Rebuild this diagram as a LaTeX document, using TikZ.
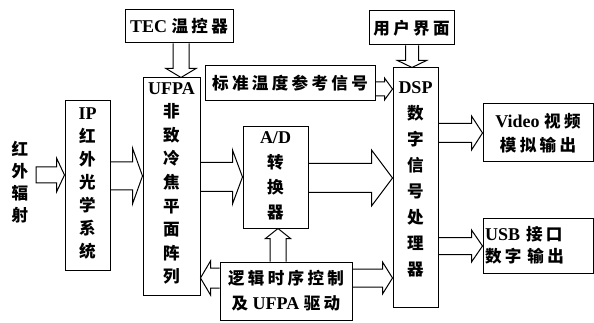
\documentclass[tikz,border=0pt]{standalone}
\usepackage{fontspec}
\setmainfont{Liberation Serif}
\newfontfamily\cjk[Scale=0.92,LetterSpace=20]{Noto Sans CJK SC}
\usetikzlibrary{calc}
\newcommand\zh[1]{{\cjk #1}}
\tikzset{
  box/.style={draw, line width=1pt, inner sep=0pt},
  txt/.style={inner sep=0pt, align=center, font=\bfseries\fontsize{18}{24}\selectfont},
  barr/.style={draw, line width=1pt, line join=miter}
}
% from, to, shaft half width, head half width, head length, end
\newcommand\blockarrow[6]{%
  \coordinate (hb) at ($(#2)!#5pt!(#1)$);
  \draw[barr] ($(#1)!#3pt!90:(#2)$) -- ($(hb)!#3pt!90:(#2)$) -- ($(hb)!#4pt!90:(#2)$) -- (#2)
    -- ($(hb)!#4pt!-90:(#2)$) -- ($(hb)!#3pt!-90:(#2)$) -- ($(#1)!#3pt!-90:(#2)$) #6;
}
\begin{document}
\begin{tikzpicture}[x=1pt,y=-1pt]
\useasboundingbox (0,0) rectangle (594,323);
% boxes
\node[box, txt, minimum width=108pt, minimum height=33pt] (tec) at (179,26.5) {TEC \zh{温控器}};
\node[box, txt, minimum width=85pt, minimum height=34pt] (user) at (411.5,28) {\zh{用户界面}};
\node[box, txt, minimum width=170pt, minimum height=35pt] (std) at (290,83.5) {\zh{标准温度参考信号}};
\node[box, minimum width=45pt, minimum height=169pt] (ip) at (87.5,185.5) {};
\node[box, minimum width=57pt, minimum height=217pt] (ufpa) at (171.5,186.5) {};
\node[box, minimum width=65pt, minimum height=101pt] (ad) at (275.5,177.5) {};
\node[box, minimum width=45pt, minimum height=239pt] (dsp) at (415.5,187.5) {};
\node[box, txt, minimum width=110pt, minimum height=58pt] (video) at (538,133) {Video \zh{视频}\\\zh{模拟输出}};
\node[box, txt, align=left, text width=106pt, inner xsep=2pt, minimum height=55pt, font=\bfseries\fontsize{18}{22}\selectfont] (usb) at (538,245.5) {USB \zh{接口}\\\zh{数字} \zh{输出}};
\node[box, txt, minimum width=132pt, minimum height=58pt, font=\bfseries\fontsize{18}{25}\selectfont] (logic) at (286,291) {\zh{逻辑时序控制}\\\zh{及} UFPA \zh{驱动}};
% vertical texts
\node[txt, font=\bfseries\fontsize{18}{22}\selectfont] (ir) at (20,182) {\zh{红}\\\zh{外}\\\zh{辐}\\\zh{射}};
\node[txt, font=\bfseries\fontsize{18}{23}\selectfont] (iptxt) at (87.5,183.5) {IP\\\zh{红}\\\zh{外}\\\zh{光}\\\zh{学}\\\zh{系}\\\zh{统}};
\node[txt, font=\bfseries\fontsize{18}{23.6}\selectfont] (ufpatxt) at (171.5,183.5) {UFPA\\\zh{非}\\\zh{致}\\\zh{冷}\\\zh{焦}\\\zh{平}\\\zh{面}\\\zh{阵}\\\zh{列}};
\node[txt, font=\bfseries\fontsize{18}{25}\selectfont] (adtxt) at (275.5,175.5) {A/D\\\zh{转}\\\zh{换}\\\zh{器}};
\node[txt, font=\bfseries\fontsize{18}{26}\selectfont] (dsptxt) at (415.5,179) {DSP\\\zh{数}\\\zh{字}\\\zh{信}\\\zh{号}\\\zh{处}\\\zh{理}\\\zh{器}};
% arrow end points
\coordinate (a1s) at (36,175);
\coordinate (a1e) at (ip.west |- 0,175);
\coordinate (a2s) at (ip.east |- 0,176);
\coordinate (a2e) at (ufpa.west |- 0,176);
\coordinate (a3s) at (ufpa.east |- 0,177);
\coordinate (a3e) at (ad.west |- 0,177);
\coordinate (a4s) at (ad.east |- 0,178);
\coordinate (a4e) at (dsp.west |- 0,178);
\coordinate (a5s) at (tec.south -| 181,0);
\coordinate (a5e) at (ufpa.north -| 181,0);
\coordinate (a6s) at (user.south -| 412,0);
\coordinate (a6e) at (dsp.north -| 412,0);
\coordinate (a7s) at (std.east |- 0,89);
\coordinate (a7e) at (dsp.west |- 0,89);
\coordinate (a8s) at (dsp.east |- 0,133);
\coordinate (a8e) at (video.west |- 0,133);
\coordinate (a9s) at (dsp.east |- 0,246);
\coordinate (a9e) at (usb.west |- 0,246);
\coordinate (a10s) at (logic.west |- 0,278);
\coordinate (a10e) at (ufpa.east |- 0,278);
\coordinate (a11s) at (logic.east |- 0,278);
\coordinate (a11e) at (dsp.west |- 0,278);
\coordinate (a12s) at (logic.north -| 278,0);
\coordinate (a12e) at (ad.south -| 278,0);
% block arrows
\blockarrow{a1s}{a1e}{8}{17}{8}{-- cycle}
\blockarrow{a2s}{a2e}{14}{28}{10}{}
\blockarrow{a3s}{a3e}{14.5}{27}{10}{}
\blockarrow{a4s}{a4e}{14.5}{28}{21}{}
\blockarrow{a5s}{a5e}{8}{15}{9}{}
\blockarrow{a6s}{a6e}{6.5}{14.5}{7}{}
\blockarrow{a7s}{a7e}{7}{11}{8}{}
\blockarrow{a8s}{a8e}{9.5}{17}{11}{}
\blockarrow{a9s}{a9e}{8.5}{16}{11}{}
\blockarrow{a10s}{a10e}{10}{17}{10}{}
\blockarrow{a11s}{a11e}{9}{16}{10}{}
\blockarrow{a12s}{a12e}{8}{12.5}{10}{}
\end{tikzpicture}
\end{document}
